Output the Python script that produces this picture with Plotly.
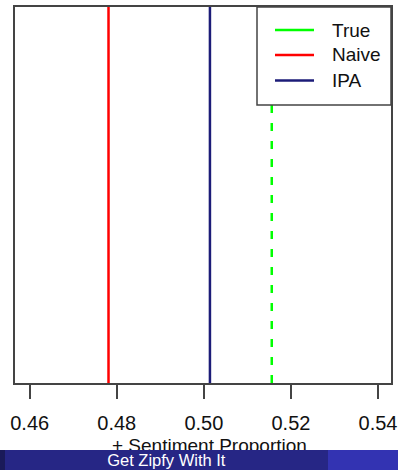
import plotly.graph_objects as go

# ---- data ----
series_names = ["True", "Naive", "IPA"]
series_values = [0.5156, 0.4781, 0.5014]
series_colors = ["#00ff00", "#ff0000", "#1c1c78"]
series_dash = ["8px,10px", "solid", "solid"]
tick_values = [0.46, 0.48, 0.50, 0.52, 0.54]
tick_labels = ["0.46", "0.48", "0.50", "0.52", "0.54"]
x_title = "+ Sentiment Proportion"
footer_text = "Get Zipfy With It"

W, H = 398, 470
ML, MR, MT, MB = 15, 7, 7, 87
PW, PH = W - ML - MR, H - MT - MB


def px(x):
    return (x - ML) / PW


def py(y):
    return (H - MB - y) / PH


FONT = "Liberation Sans, Arial, sans-serif"

fig = go.Figure()
for name, v, c, d in zip(series_names, series_values, series_colors, series_dash):
    fig.add_trace(go.Scatter(x=[v, v], y=[0, 1], mode="lines", name=name,
                             line=dict(color=c, width=2.5, dash=d),
                             showlegend=False, hoverinfo="skip"))

shapes = []
# legend box
shapes.append(dict(type="rect", xref="paper", yref="paper",
                   x0=px(257), x1=px(391), y0=py(105), y1=py(7),
                   fillcolor="white", line=dict(color="#444", width=1.5),
                   layer="above"))
annotations = []
legend_rows = [30, 55, 80.5]
for name, c, yy in zip(series_names, series_colors, legend_rows):
    shapes.append(dict(type="line", xref="paper", yref="paper",
                       x0=px(275), x1=px(314), y0=py(yy), y1=py(yy),
                       line=dict(color=c, width=2.5), layer="above"))
    annotations.append(dict(xref="paper", yref="paper", x=px(330), y=py(yy),
                            xanchor="left", yanchor="middle", text=name,
                            showarrow=False,
                            font=dict(family=FONT, size=19, color="#111")))

# x title (drawn before footer so footer covers it)
annotations.append(dict(xref="paper", yref="paper", x=px(210), y=py(433),
                        xanchor="center", yanchor="top", text=x_title,
                        showarrow=False,
                        font=dict(family=FONT, size=19, color="#111")))

# footer bars
for x0, x1, col, txt in [(0, 5, "#1a1a59", " "), (5, 328, "#262685", footer_text),
                         (328, 398, "#3333b2", " ")]:
    annotations.append(dict(xref="paper", yref="paper", x=px(x0), y=py(470),
                            xanchor="left", yanchor="bottom", width=x1 - x0,
                            height=20, bgcolor=col, borderpad=0, borderwidth=0,
                            text=txt, showarrow=False, align="center",
                            valign="middle",
                            font=dict(family=FONT, size=16.5, color="white")))

fig.update_layout(
    width=W, height=H,
    margin=dict(l=ML, r=MR, t=MT, b=MB, pad=0, autoexpand=False),
    plot_bgcolor="white", paper_bgcolor="white",
    showlegend=False,
    shapes=shapes, annotations=annotations,
    xaxis=dict(range=[0.45662, 0.54299], tickvals=tick_values, ticktext=tick_labels,
               ticks="outside", ticklen=14, tickwidth=1.5, tickcolor="#444",
               showline=True, mirror=True, linecolor="#444", linewidth=1.5,
               showgrid=False, zeroline=False, automargin=False,
               ticklabelstandoff=7,
               tickfont=dict(family=FONT, size=20, color="#111")),
    yaxis=dict(range=[0, 1], showticklabels=False, ticks="", showline=True,
               mirror=True, linecolor="#444", linewidth=1.5, showgrid=False,
               zeroline=False, automargin=False),
)

fig.write_html("out.html")
